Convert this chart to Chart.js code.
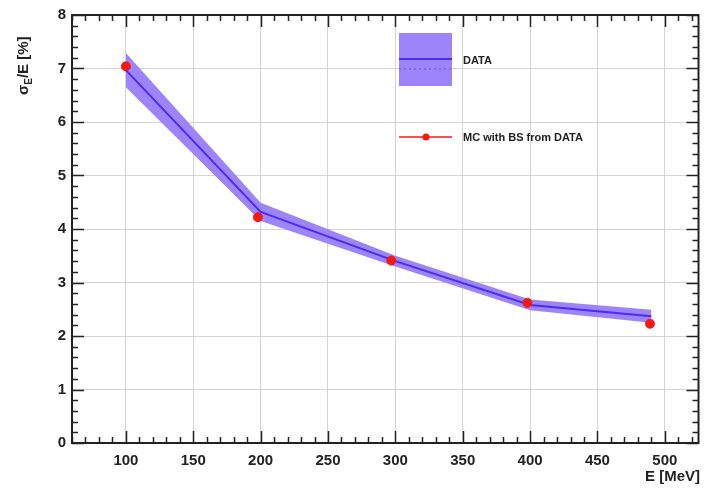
<!DOCTYPE html>
<html>
<head>
<meta charset="utf-8">
<script src="https://cdn.jsdelivr.net/npm/chart.js@4/dist/chart.umd.min.js"></script>
<style>
  html, body { margin: 0; padding: 0; background: #fff; }
  #wrap { width: 704px; height: 488px; }
</style>
</head>
<body>
<div id="wrap"><canvas id="res"></canvas></div>
<script>
// energy resolution, data band and MC points
const dataE = [100, 200, 300, 400, 490];
const dataRes = [6.97, 4.32, 3.40, 2.58, 2.37];
const dataErr = [0.32, 0.17, 0.10, 0.10, 0.12];
const mcE = [100, 198, 297, 398, 489];
const mcRes = [7.04, 4.22, 3.41, 2.62, 2.23];
const xTicks = [100, 150, 200, 250, 300, 350, 400, 450, 500];
const yTicks = [0, 1, 2, 3, 4, 5, 6, 7, 8];

const bandColor = '#9d84fb';
const lineColor = '#4a2cf2';
const mcColor = '#f21a12';
const font = 'bold 15px "Liberation Sans", Arial, sans-serif';

const pts = (xs, ys) => xs.map((x, i) => ({ x: x, y: ys[i] }));

const rootFrame = {
    id: 'rootFrame',
    afterDraw(chart) {
        const c = chart.ctx;
        const a = chart.chartArea;
        const xs = chart.scales.x, ys = chart.scales.y;
        c.save();
        c.strokeStyle = '#222';
        // inside tick marks
        c.lineWidth = 1.5;
        c.beginPath();
        for (let v = 60; v <= 525; v += 10) {
            const px = Math.round(xs.getPixelForValue(v)) + 0.5;
            const len = v % 50 === 0 ? 12 : 6;
            c.moveTo(px, a.bottom); c.lineTo(px, a.bottom - len);
            c.moveTo(px, a.top); c.lineTo(px, a.top + len);
        }
        for (let v = 0; v <= 8.001; v += 0.2) {
            const py = Math.round(ys.getPixelForValue(v)) + 0.5;
            const major = Math.abs(v - Math.round(v)) < 0.01;
            const len = major ? 12 : 6;
            c.moveTo(a.left, py); c.lineTo(a.left + len, py);
            c.moveTo(a.right, py); c.lineTo(a.right - len, py);
        }
        c.stroke();
        // frame
        c.lineWidth = 2;
        c.strokeRect(a.left, a.top, a.right - a.left, a.bottom - a.top);

        // legend
        c.fillStyle = bandColor;
        c.fillRect(399, 33, 53, 53);
        c.strokeStyle = lineColor;
        c.lineWidth = 2;
        c.beginPath(); c.moveTo(399, 59); c.lineTo(452, 59); c.stroke();
        c.lineWidth = 1;
        c.setLineDash([2, 3]);
        c.strokeStyle = '#6a4ae0';
        c.beginPath(); c.moveTo(399, 69); c.lineTo(452, 69); c.stroke();
        c.setLineDash([]);
        c.strokeStyle = mcColor;
        c.lineWidth = 1.5;
        c.beginPath(); c.moveTo(399, 137); c.lineTo(452, 137); c.stroke();
        c.fillStyle = mcColor;
        c.beginPath(); c.arc(426, 137, 3.5, 0, Math.PI * 2); c.fill();
        c.fillStyle = '#222';
        c.font = 'bold 11px "Liberation Sans", Arial, sans-serif';
        c.textBaseline = 'middle';
        c.textAlign = 'left';
        c.fillText('DATA', 463, 61);
        c.fillText('MC with BS from DATA', 463, 138);

        // axis titles
        c.font = font;
        c.textAlign = 'right';
        c.fillText('E [MeV]', 700, 477);
        c.translate(28, 95);
        c.rotate(-Math.PI / 2);
        c.textAlign = 'left';
        c.textBaseline = 'alphabetic';
        c.fillText('\u03c3', 0, 0);
        let w = c.measureText('\u03c3').width;
        c.font = 'bold 10px "Liberation Sans", Arial, sans-serif';
        c.fillText('E', w, 4);
        w += c.measureText('E').width;
        c.font = font;
        c.fillText('/E [%]', w, 0);
        c.restore();
    }
};

new Chart(document.getElementById('res'), {
    type: 'scatter',
    data: {
        datasets: [{
            label: 'band high',
            data: pts(dataE, dataRes.map((v, i) => v + dataErr[i])),
            showLine: true,
            borderWidth: 0,
            pointRadius: 0,
            backgroundColor: bandColor,
            fill: '+1',
            order: 3
        }, {
            label: 'band low',
            data: pts(dataE, dataRes.map((v, i) => v - dataErr[i])),
            showLine: true,
            borderWidth: 0,
            pointRadius: 0,
            fill: false,
            order: 4
        }, {
            label: 'DATA',
            data: pts(dataE, dataRes),
            showLine: true,
            borderColor: lineColor,
            borderWidth: 2,
            pointRadius: 0,
            fill: false,
            order: 2
        }, {
            label: 'MC with BS from DATA',
            data: pts(mcE, mcRes),
            showLine: false,
            pointRadius: 4.5,
            pointBackgroundColor: mcColor,
            pointBorderColor: mcColor,
            order: 1
        }]
    },
    options: {
        responsive: true,
        maintainAspectRatio: false,
        animation: false,
        layout: { padding: { top: 15, right: 2, left: 0, bottom: 0 } },
        plugins: {
            legend: { display: false },
            tooltip: { enabled: false }
        },
        scales: {
            x: {
                type: 'linear',
                min: 60,
                max: 525,
                afterBuildTicks: s => { s.ticks = xTicks.map(v => ({ value: v })); },
                afterFit: s => { s.height = 45; },
                grid: { color: '#d4d4d4', drawTicks: false },
                border: { display: false },
                ticks: { color: '#222', font: { family: '"Liberation Sans", Arial, sans-serif', size: 15, weight: 'bold' }, padding: 9, maxRotation: 0 }
            },
            y: {
                min: 0,
                max: 8,
                afterBuildTicks: s => { s.ticks = yTicks.map(v => ({ value: v })); },
                afterFit: s => { s.width = 72; },
                grid: { color: '#d4d4d4', drawTicks: false },
                border: { display: false },
                ticks: { color: '#222', font: { family: '"Liberation Sans", Arial, sans-serif', size: 15, weight: 'bold' }, padding: 6 }
            }
        }
    },
    plugins: [rootFrame]
});
</script>
</body>
</html>
